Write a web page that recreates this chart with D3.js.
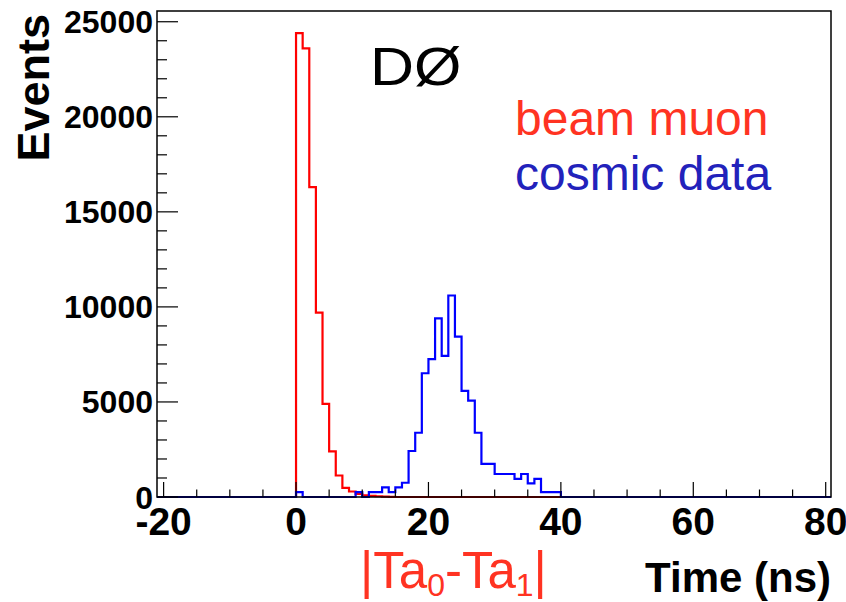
<!DOCTYPE html>
<html>
<head>
<meta charset="utf-8">
<script src="https://cdn.jsdelivr.net/npm/d3@7"></script>
<style>
  html, body { margin: 0; padding: 0; background: #fff; }
  svg { display: block; }
</style>
</head>
<body>
<svg id="chart" width="846" height="602"></svg>
<script>
// ---- data ----
const xDomain = [-21, 80.8];
const yDomain = [0, 25565];
const binWidth = 1;
// beam muon histogram, bins starting at 0 ns (1 ns wide)
const redStart = 0;
const redCounts = [24400, 23600, 16300, 9700, 4900, 2400, 1130, 480, 290, 160, 90, 60, 40, 20, 10, 0];
// cosmic data histogram, bins starting at 0 ns (1 ns wide)
const blueStart = 0;
const blueCounts = [260, 0, 0, 0, 0, 0, 0, 0, 0, 260, 0, 260, 260, 510, 260, 510, 750, 2420, 3380,
  6510, 7250, 9400, 7420, 10600, 8440, 5580, 5070, 3380, 1740, 1740, 1210, 1210, 1210, 950, 1210,
  720, 950, 260, 260, 260, 0];
const xTicks = [-20, 0, 20, 40, 60, 80];
const xMinorTicks = [-20, -15, -10, -5, 0, 5, 10, 15, 20, 25, 30, 35, 40, 45, 50, 55, 60, 65, 70, 75, 80];
const yTicks = [0, 5000, 10000, 15000, 20000, 25000];
const yMinorStep = 1000;

// ---- layout ----
const L = 157, R = 831, T = 11, B = 497;
const svg = d3.select("#chart");
const x = d3.scaleLinear().domain(xDomain).range([L, R]);
const y = d3.scaleLinear().domain(yDomain).range([B, T]);

function histPoints(start, counts) {
  const pts = [[xDomain[0], 0]];
  counts.forEach((c, i) => pts.push([start + i * binWidth, c]));
  pts.push([start + counts.length * binWidth, 0]);
  pts.push([xDomain[1], 0]);
  return pts;
}
const line = d3.line().x(d => x(d[0])).y(d => y(d[1])).curve(d3.curveStepAfter);

svg.append("path").attr("d", line(histPoints(redStart, redCounts)))
  .attr("fill", "none").attr("stroke", "#ff0000").attr("stroke-width", 2.2);
svg.append("path").attr("d", line(histPoints(blueStart, blueCounts)))
  .attr("fill", "none").attr("stroke", "#0000ff").attr("stroke-width", 2.2);

// frame
svg.append("rect").attr("x", L).attr("y", T).attr("width", R - L).attr("height", B - T)
  .attr("fill", "none").attr("stroke", "#000").attr("stroke-width", 1.5);

// x ticks (inside, upward)
const gx = svg.append("g");
xMinorTicks.forEach(v => {
  const major = xTicks.includes(v);
  gx.append("line").attr("x1", x(v)).attr("x2", x(v)).attr("y1", B).attr("y2", B - (major ? 15 : 7.5))
    .attr("stroke", "#000").attr("stroke-width", 1.2);
});
// y ticks (inside, rightward)
const yMinor = d3.range(0, 25001, yMinorStep);
yMinor.forEach(v => {
  const major = yTicks.includes(v);
  svg.append("line").attr("x1", L).attr("x2", L + (major ? 21 : 10)).attr("y1", y(v)).attr("y2", y(v))
    .attr("stroke", "#000").attr("stroke-width", 1.2);
});

const font = "'Liberation Sans', Arial, Helvetica, sans-serif";
// y tick labels
yTicks.forEach(v => {
  svg.append("text").attr("x", L - 4).attr("y", y(v)).attr("dy", "0.36em")
    .attr("text-anchor", "end").attr("font-family", font).attr("font-weight", "bold")
    .attr("font-size", 32).text(v);
});
// x tick labels
xTicks.forEach(v => {
  svg.append("text").attr("x", x(v)).attr("y", 535)
    .attr("text-anchor", "middle").attr("font-family", font).attr("font-weight", "bold")
    .attr("font-size", 39).text(v);
});

// axis titles
svg.append("text").attr("transform", "translate(49,14) rotate(-90)")
  .attr("text-anchor", "end").attr("font-family", font).attr("font-weight", "bold")
  .attr("font-size", 45).text("Events");
svg.append("text").attr("x", 831).attr("y", 592)
  .attr("text-anchor", "end").attr("font-family", font).attr("font-weight", "bold")
  .attr("font-size", 42).text("Time (ns)");

const xl = svg.append("text").attr("x", 360).attr("y", 588)
  .attr("font-family", font).attr("font-size", 51).attr("fill", "#ff3322");
xl.append("tspan").text("|Ta");
xl.append("tspan").attr("font-size", 32).attr("dy", 8).text("0");
xl.append("tspan").attr("dy", -8).text("-Ta");
xl.append("tspan").attr("font-size", 32).attr("dy", 8).text("1");
xl.append("tspan").attr("dy", -8).text("|");

// annotations
svg.append("text").attr("transform", "translate(370,85) scale(1.15,1)").attr("font-family", font)
  .attr("font-size", 53).attr("fill", "#000").text("DØ");
svg.append("text").attr("x", 515).attr("y", 135).attr("font-family", font)
  .attr("font-size", 48).attr("fill", "#ff3322").text("beam muon");
svg.append("text").attr("x", 515).attr("y", 190).attr("font-family", font)
  .attr("font-size", 48).attr("fill", "#2222bb").text("cosmic data");
</script>
</body>
</html>
